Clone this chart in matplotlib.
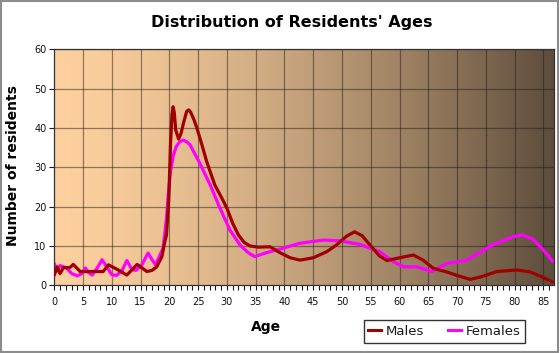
import numpy as np
import matplotlib
matplotlib.use("Agg")
import matplotlib.pyplot as plt
from matplotlib.patches import Rectangle
from matplotlib.lines import Line2D

# ---- data ----
male_age = [0, 0.5, 1.0, 1.6, 2.7, 3.3, 4.5, 6, 8.5, 9.4, 11, 12.6, 14.4, 16.1, 17.0, 17.8, 18.7, 19.2,
            19.5, 19.9, 20.2, 20.45, 20.65, 20.85, 21.1, 21.6, 22.0, 22.5, 23.0, 23.35, 23.7, 24.3,
            24.8, 25.7, 26.5, 27.9, 29.0, 30.0, 31.0, 32.0, 33.0, 34.0,
            35.5, 37.5, 39.2, 41.0, 42.7, 45.0, 47.3, 49.0, 50.8, 52.2, 53.5, 54.9, 56.5, 57.8, 60.0,
            62.4, 64.1, 65.9, 68.2, 70.0, 72.3, 74.5, 76.9, 80.4, 82.7, 84.5, 86.7]
male_val = [2.6, 4.7, 3.0, 4.5, 4.5, 5.3, 3.5, 3.5, 3.5, 5.2, 4.0, 2.6, 5.3, 3.5, 3.8, 4.7, 7.3, 11.0,
            12.8, 22.0, 36.0, 43.5, 45.4, 44.0, 39.5, 37.2, 38.5, 41.5, 44.2, 44.6, 44.0, 42.0,
            39.9, 35.5, 31.4, 25.5, 22.5, 19.6, 15.8, 12.8, 10.9, 10.0,
            9.7, 9.8, 8.3, 7.0, 6.4, 7.0, 8.5, 10.2, 12.5, 13.6, 12.6, 10.2, 7.5, 6.3, 7.0,
            7.7, 6.4, 4.3, 3.4, 2.5, 1.5, 2.3, 3.5, 3.9, 3.4, 2.3, 0.8]

female_age = [0, 0.5, 1.0, 1.6, 2.2, 3.0, 4.0, 4.8, 5.4, 6.0, 6.6, 7.5, 8.3, 9.2, 10.0, 10.8, 11.8,
              12.6, 13.5, 14.2, 15.2, 16.3, 17.0, 17.6, 18.3, 18.9, 19.5, 19.8, 20.2, 20.7, 21.2, 21.8,
              22.4, 23.0, 23.6, 25.3, 27.1, 28.8, 30.5, 32.3, 33.7, 34.8, 36.9, 39.2, 42.7, 46.8,
              49.7, 53.1, 56.6, 58.9, 60.7, 63.0, 65.6, 68.3, 71.5, 76.1, 79.8, 81.4, 83.2, 85.0, 86.7]
female_val = [5.5, 3.6, 5.0, 4.7, 4.3, 3.0, 2.4, 3.0, 4.4, 3.2, 2.6, 4.5, 6.5, 4.5, 2.7, 2.5, 3.8,
              6.3, 4.0, 3.8, 5.2, 8.2, 6.5, 5.2, 7.5, 9.4, 17.0, 23.0, 29.0, 33.1, 35.3, 36.5,
              36.9, 36.5, 35.7, 31.0, 25.5, 19.6, 14.1, 10.2, 8.3, 7.3, 8.3, 9.2, 10.7, 11.5,
              11.3, 10.4, 8.5, 6.0, 4.7, 4.7, 3.5, 5.6, 6.3, 10.2, 12.4, 12.8, 11.7, 9.0, 6.0]

x_ticks = list(range(0, 90, 5))
y_ticks = [0, 10, 20, 30, 40, 50, 60]
title = "Distribution of Residents' Ages"
series_names = ["Males", "Females"]

W, H = 560, 353
fig = plt.figure(figsize=(W / 100, H / 100), dpi=100)
fig.patch.set_facecolor((0, 1, 1, 0))

# axes placement in pixels
L, R, T, B = 54.3, 554.3, 49.3, 285.3
ax = fig.add_axes([L / W, 1 - B / H, (R - L) / W, (B - T) / H])
ax.set_xlim(0, 86.9)
ax.set_ylim(0, 60)

# gradient background
t = np.linspace(0, 1, 400) ** 1.45
c0 = np.array([253, 208, 158]) / 255
c1 = np.array([93, 77, 60]) / 255
grad = (c0[None, :] * (1 - t[:, None]) + c1[None, :] * t[:, None])[None, :, :]
ax.imshow(grad, extent=[0, 86.9, 0, 60], aspect="auto", zorder=0, interpolation="bilinear")

# grid
for xv in x_ticks[1:]:
    ax.axvline(xv, color=(0.15, 0.12, 0.1), alpha=0.5, lw=0.9, zorder=1)
for yv in y_ticks[1:]:
    ax.axhline(yv, color=(0.15, 0.12, 0.1), alpha=0.5, lw=0.9, zorder=1)

ax.plot(female_age, female_val, color="#ff00ff", lw=2.3, zorder=2, solid_capstyle="round",
        solid_joinstyle="round")
ax.plot(male_age, male_val, color="#a00000", lw=2.3, zorder=3, solid_capstyle="round",
        solid_joinstyle="round")

ax.set_xticks(x_ticks)
ax.set_xticks(range(0, 87), minor=True)
ax.set_yticks(y_ticks)
ax.tick_params(axis="x", which="both", direction="out", length=3.5, width=0.8,
               colors=(0.1, 0.1, 0.1), labelsize=7, pad=5)
ax.tick_params(axis="y", which="major", direction="out", length=3.5, width=0.8,
               colors=(0.1, 0.1, 0.1), labelsize=7, pad=2)
for sp in ax.spines.values():
    sp.set_color((0.2, 0.2, 0.2))
    sp.set_linewidth(0.9)
for lab in ax.get_xticklabels() + ax.get_yticklabels():
    lab.set_color("#111111")

# title and labels
fig.text(292 / W, 1 - 23 / H, title, ha="center", va="center", fontsize=11.5,
         fontweight="bold", color="black")
fig.text(266 / W, 1 - 327.5 / H, "Age", ha="center", va="center", fontsize=10,
         fontweight="bold", color="black")
fig.text(13 / W, 1 - 166 / H, "Number of residents", ha="center", va="center", fontsize=10,
         fontweight="bold", color="black", rotation=90)

# legend
handles = [Line2D([], [], color="#a00000", lw=2.2), Line2D([], [], color="#ff00ff", lw=2.2)]
leg = fig.legend(handles, series_names, loc="center", bbox_to_anchor=(444.5 / W, 1 - 331.5 / H),
                 ncol=2, fontsize=9.5, frameon=True, fancybox=False, handlelength=1.0,
                 handletextpad=0.35, columnspacing=1.8, borderpad=0.35, framealpha=None)
leg.get_frame().set_facecolor("none")
leg.get_frame().set_edgecolor((0, 0, 0, 0.5))
leg.get_frame().set_linewidth(1.0)
for txt in leg.get_texts():
    txt.set_color("#1a1a1a")

# outer border
fig.patches.append(Rectangle((0.8 / W, 1 - 352 / H), 557 / W, 351.2 / H, transform=fig.transFigure,
                             fill=False, edgecolor=(0, 0, 0, 0.45), lw=1.5))

fig.savefig("out.png", dpi=100, facecolor=fig.get_facecolor())
